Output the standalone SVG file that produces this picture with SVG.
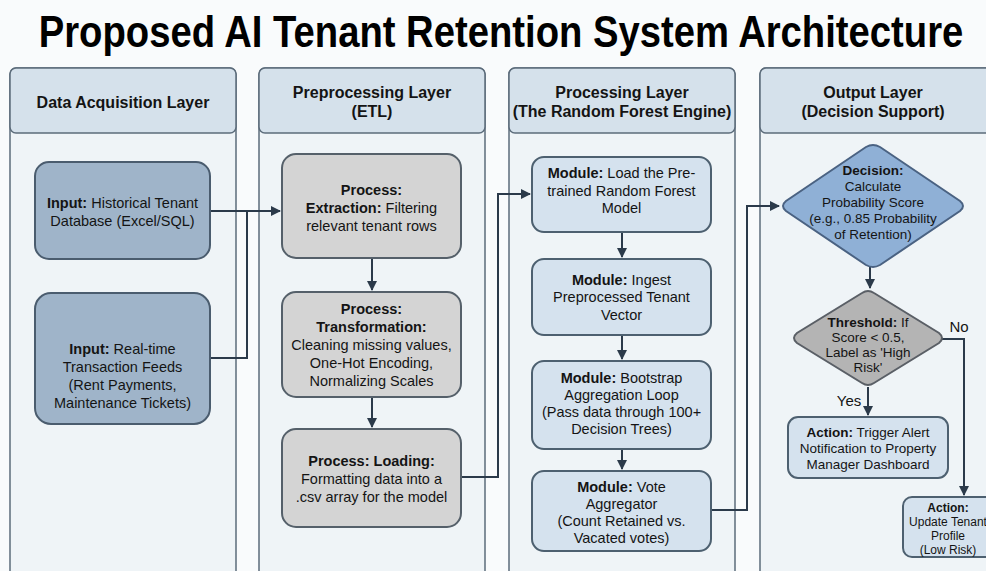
<svg xmlns="http://www.w3.org/2000/svg" width="986" height="571" viewBox="0 0 986 571">
<defs>
<marker id="ah" viewBox="0 0 10 10" refX="9" refY="5" markerWidth="5" markerHeight="5" orient="auto" markerUnits="strokeWidth">
<path d="M0,0 L10,5 L0,10 Z" fill="#2b3a4a"/>
</marker>
</defs>
<style>
text{font-family:"Liberation Sans",Arial,sans-serif;fill:#141414;text-anchor:middle}
.title{font-size:44px;font-weight:bold;fill:#000}
.hdr{font-size:16px;font-weight:bold}
.t{font-size:14.5px}
.s{font-size:13.5px}
.xs{font-size:12px}
.lbl{font-size:15px}
.b{font-weight:bold}
.panel{fill:#eff4f7;stroke:#5c6c7b;stroke-width:1.5}
.head{fill:#d5e1eb;stroke:#5c6c7b;stroke-width:1.5}
.inp{fill:#9fb4c9;stroke:#4a5c6e;stroke-width:2}
.proc{fill:#d4d4d4;stroke:#55606a;stroke-width:2}
.mod{fill:#d5e2ee;stroke:#4d6070;stroke-width:2}
.dec{fill:#8fb0d6;stroke:#4a6282;stroke-width:2}
.thr{fill:#b4b4b4;stroke:#5a5f66;stroke-width:2}
.con{fill:none;stroke:#2b3a4a;stroke-width:2}
</style>
<rect width="986" height="571" fill="#f9fbfc"/>
<text class="title" transform="translate(501,47) scale(0.869,1)" x="0" y="0">Proposed AI Tenant Retention System Architecture</text>

<g id="layer-acquisition">
<rect class="panel" x="10" y="68" width="226" height="520" rx="6"/>
<rect class="head" x="10" y="68" width="226" height="65" rx="6"/>
<text class="hdr" x="123" y="108">Data Acquisition Layer</text>
</g>
<g id="layer-preprocessing">
<rect class="panel" x="259" y="68" width="226" height="520" rx="6"/>
<rect class="head" x="259" y="68" width="226" height="65" rx="6"/>
<text class="hdr" x="372" y="98">Preprocessing Layer</text>
<text class="hdr" x="372" y="117">(ETL)</text>
</g>
<g id="layer-processing">
<rect class="panel" x="509" y="68" width="226" height="520" rx="6"/>
<rect class="head" x="509" y="68" width="226" height="65" rx="6"/>
<text class="hdr" x="622" y="98">Processing Layer</text>
<text class="hdr" x="622" y="117">(The Random Forest Engine)</text>
</g>
<g id="layer-output">
<rect class="panel" x="760" y="68" width="240" height="520" rx="6"/>
<rect class="head" x="760" y="68" width="240" height="65" rx="6"/>
<text class="hdr" x="873" y="98">Output Layer</text>
<text class="hdr" x="873" y="117">(Decision Support)</text>
</g>

<g id="connectors">
<path class="con" d="M210,211 H280" marker-end="url(#ah)"/>
<path class="con" d="M210,358 H247 V211"/>
<path class="con" d="M372,258 V290" marker-end="url(#ah)"/>
<path class="con" d="M372,397 V427" marker-end="url(#ah)"/>
<path class="con" d="M461,477 H498 V194 H530" marker-end="url(#ah)"/>
<path class="con" d="M622,232 V257" marker-end="url(#ah)"/>
<path class="con" d="M622,335 V359" marker-end="url(#ah)"/>
<path class="con" d="M622,449 V469" marker-end="url(#ah)"/>
<path class="con" d="M711,510 H747 V206 H779" marker-end="url(#ah)"/>
<path class="con" d="M870,267 V288" marker-end="url(#ah)"/>
<path class="con" d="M932,339 H964 V495" marker-end="url(#ah)"/>
<path class="con" d="M868,387 V415" marker-end="url(#ah)"/>
<text class="lbl" x="959" y="332">No</text>
<text class="lbl" x="849" y="406">Yes</text>
</g>

<g id="input-historical">
<rect class="inp" x="35" y="162" width="175" height="97" rx="14"/>
<text class="t" x="122.5" y="208"><tspan class="b">Input:</tspan> Historical Tenant</text>
<text class="t" x="122.5" y="226">Database (Excel/SQL)</text>
</g>
<g id="input-realtime">
<rect class="inp" x="35" y="293" width="175" height="131" rx="16"/>
<text class="t" x="122.5" y="354"><tspan class="b">Input:</tspan> Real-time</text>
<text class="t" x="122.5" y="372">Transaction Feeds</text>
<text class="t" x="122.5" y="390">(Rent Payments,</text>
<text class="t" x="122.5" y="408">Maintenance Tickets)</text>
</g>

<g id="process-extraction">
<rect class="proc" x="282" y="154" width="179" height="104" rx="14"/>
<text class="t b" x="371.5" y="195">Process:</text>
<text class="t" x="371.5" y="213"><tspan class="b">Extraction:</tspan> Filtering</text>
<text class="t" x="371.5" y="231">relevant tenant rows</text>
</g>
<g id="process-transformation">
<rect class="proc" x="282" y="292" width="179" height="105" rx="14"/>
<text class="t b" x="371.5" y="314">Process:</text>
<text class="t b" x="371.5" y="332">Transformation:</text>
<text class="t" x="371.5" y="350">Cleaning missing values,</text>
<text class="t" x="371.5" y="368">One-Hot Encoding,</text>
<text class="t" x="371.5" y="386">Normalizing Scales</text>
</g>
<g id="process-loading">
<rect class="proc" x="282" y="429" width="179" height="98" rx="14"/>
<text class="t b" x="371.5" y="466">Process: Loading:</text>
<text class="t" x="371.5" y="484">Formatting data into a</text>
<text class="t" x="371.5" y="502">.csv array for the model</text>
</g>

<g id="module-load">
<rect class="mod" x="532" y="157" width="179" height="75" rx="12"/>
<text class="t" x="621.5" y="178"><tspan class="b">Module:</tspan> Load the Pre-</text>
<text class="t" x="621.5" y="195.5">trained Random Forest</text>
<text class="t" x="621.5" y="213">Model</text>
</g>
<g id="module-ingest">
<rect class="mod" x="532" y="259" width="179" height="76" rx="12"/>
<text class="t" x="621.5" y="284.5"><tspan class="b">Module:</tspan> Ingest</text>
<text class="t" x="621.5" y="302">Preprocessed Tenant</text>
<text class="t" x="621.5" y="319.5">Vector</text>
</g>
<g id="module-bootstrap">
<rect class="mod" x="532" y="361" width="179" height="88" rx="12"/>
<text class="t" x="621.5" y="383"><tspan class="b">Module:</tspan> Bootstrap</text>
<text class="t" x="621.5" y="400">Aggregation Loop</text>
<text class="t" x="621.5" y="417">(Pass data through 100+</text>
<text class="t" x="621.5" y="434">Decision Trees)</text>
</g>
<g id="module-vote">
<rect class="mod" x="532" y="471" width="179" height="80" rx="12"/>
<text class="t" x="621.5" y="492"><tspan class="b">Module:</tspan> Vote</text>
<text class="t" x="621.5" y="509">Aggregator</text>
<text class="t" x="621.5" y="526">(Count Retained vs.</text>
<text class="t" x="621.5" y="543">Vacated votes)</text>
</g>

<g id="decision-probability">
<path class="dec" d="M866,147 Q873,143 880,147 L960,201 Q966,206 960,211 L880,265 Q873,269 866,265 L786,211 Q780,206 786,201 Z"/>
<text class="s b" x="873" y="175">Decision:</text>
<text class="s" x="873" y="191">Calculate</text>
<text class="s" x="873" y="207">Probability Score</text>
<text class="s" x="873" y="223">(e.g., 0.85 Probability</text>
<text class="s" x="873" y="239">of Retention)</text>
</g>
<g id="decision-threshold">
<path class="thr" d="M862,293 Q868,289 874,293 L939,333 Q945,338 939,343 L874,383 Q868,387 862,383 L797,343 Q791,338 797,333 Z"/>
<text class="s" x="868" y="327"><tspan class="b">Threshold:</tspan> If</text>
<text class="s" x="868" y="342">Score &lt; 0.5,</text>
<text class="s" x="868" y="357">Label as 'High</text>
<text class="s" x="868" y="372">Risk'</text>
</g>
<g id="action-alert">
<rect class="mod" x="788" y="417" width="160" height="61" rx="10"/>
<text class="s" x="868" y="437"><tspan class="b">Action:</tspan> Trigger Alert</text>
<text class="s" x="868" y="453">Notification to Property</text>
<text class="s" x="868" y="469">Manager Dashboard</text>
</g>
<g id="action-update">
<rect class="mod" x="903" y="497" width="92" height="60" rx="9"/>
<text class="xs b" x="948" y="511.5">Action:</text>
<text class="xs" x="948" y="525.5">Update Tenant</text>
<text class="xs" x="948" y="539.5">Profile</text>
<text class="xs" x="948" y="553.5">(Low Risk)</text>
</g>
</svg>
